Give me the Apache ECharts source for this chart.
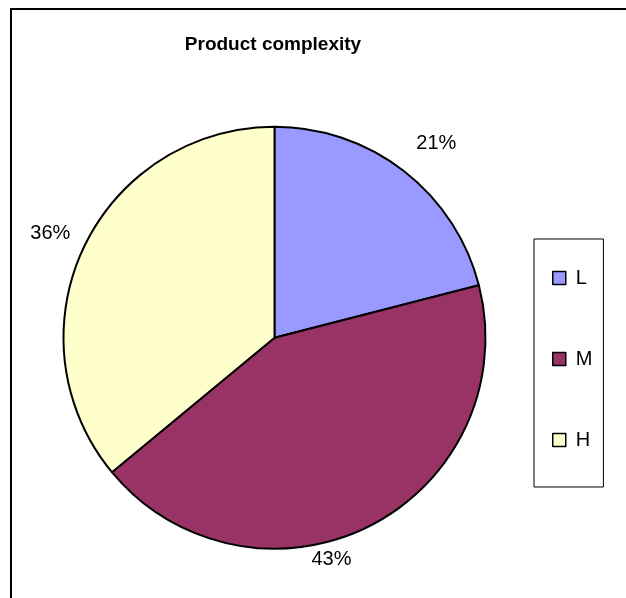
<!DOCTYPE html>
<html>
<head>
<meta charset="utf-8">
<script src="https://cdn.jsdelivr.net/npm/echarts@6/dist/echarts.min.js"></script>
<style>html,body{margin:0;padding:0;background:#fff;}#c{width:626px;height:598px;}</style>
</head>
<body>
<div id="c"></div>
<script>
const titleText = 'Product complexity';
const categories = ['L', 'M', 'H'];
const values = [21, 43, 36];
const colors = ['#9999FF', '#993366', '#FFFFCC'];
const labelOffsets = [[8, 4], [-57, -2], [3, 3]];

const font = '"Liberation Sans", Arial, sans-serif';
const chart = echarts.init(document.getElementById('c'), null, {renderer: 'canvas'});

const mainData = categories.map((n, i) => ({name: n, value: values[i], itemStyle: {color: colors[i]}}));
const labelData = categories.map((n, i) => ({
  name: n, value: values[i],
  label: {offset: labelOffsets[i]}
}));

chart.setOption({
  animation: false,
  backgroundColor: '#fff',
  graphic: [{
    type: 'rect', left: 10, top: 8, z: -1,
    shape: {width: 640, height: 620},
    style: {fill: '#fff', stroke: '#000', lineWidth: 2}
  }],
  title: {
    text: titleText, left: 268, top: 30, textAlign: 'center',
    textStyle: {fontFamily: font, fontWeight: 'bold', fontSize: 19, color: '#000'}
  },
  legend: {
    data: categories,
    orient: 'vertical',
    left: 534, top: 239,
    icon: 'rect',
    itemWidth: 13, itemHeight: 13,
    itemGap: 61,
    padding: [29, 11, 37, 18],
    backgroundColor: '#fff',
    borderColor: '#000', borderWidth: 1, borderRadius: 0,
    itemStyle: {borderColor: '#000', borderWidth: 1.5},
    textStyle: {fontFamily: font, fontSize: 20, color: '#000', padding: [0, 0, 0, 5]},
    selectedMode: false
  },
  series: [{
    type: 'pie',
    center: [274.5, 337.7],
    radius: [0, 211],
    startAngle: 90,
    clockwise: true,
    silent: true,
    data: mainData,
    itemStyle: {borderColor: '#000', borderWidth: 2},
    label: {show: false},
    labelLine: {show: false},
    emphasis: {disabled: true}
  }, {
    type: 'pie',
    center: [274.5, 337.7],
    radius: [230, 266],
    startAngle: 90,
    clockwise: true,
    silent: true,
    data: labelData,
    itemStyle: {color: 'rgba(0,0,0,0)', borderWidth: 0},
    label: {
      show: true, position: 'inside',
      formatter: p => p.value + '%',
      fontFamily: font, fontSize: 20, color: '#000'
    },
    labelLine: {show: false},
    emphasis: {disabled: true}
  }]
});
</script>
</body>
</html>
